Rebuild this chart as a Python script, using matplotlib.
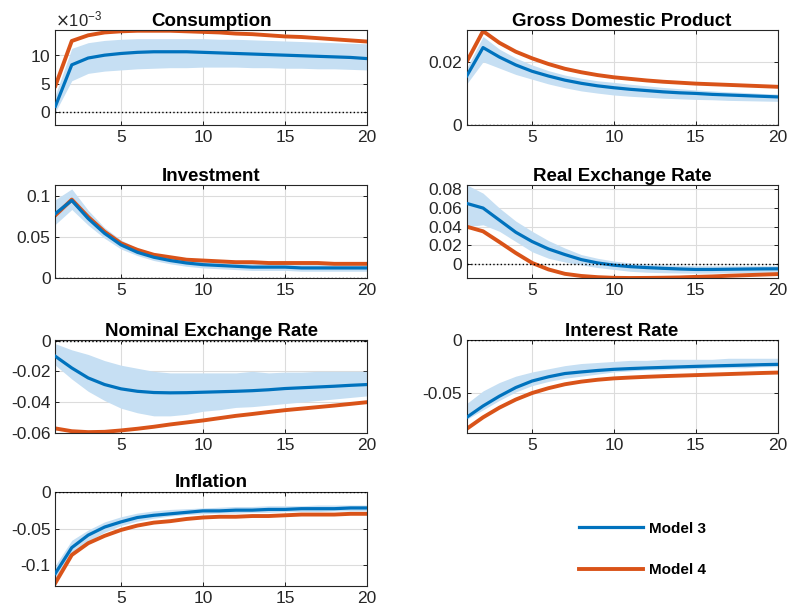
import numpy as np
import matplotlib
matplotlib.use('Agg')
import matplotlib.pyplot as plt
from matplotlib.lines import Line2D
from matplotlib.ticker import ScalarFormatter

plt.rcParams['font.family'] = ['Liberation Sans', 'DejaVu Sans']
plt.rcParams['axes.unicode_minus'] = False

horizon = np.arange(1, 21)

# consumption is read in units of 1e-3
cons_m3 = np.array([1.0, 8.3, 9.5, 10.0, 10.3, 10.5, 10.6, 10.6, 10.6, 10.5,
                    10.4, 10.3, 10.2, 10.1, 10.0, 9.9, 9.8, 9.7, 9.6, 9.4]) * 1e-3
cons_m4 = np.array([4.6, 12.5, 13.5, 14.0, 14.2, 14.3, 14.3, 14.3, 14.2, 14.1,
                    14.0, 13.8, 13.7, 13.5, 13.3, 13.2, 13.0, 12.8, 12.6, 12.4]) * 1e-3
cons_lo = np.array([0.0, 5.5, 6.8, 7.2, 7.4, 7.6, 7.7, 7.8, 7.8, 7.9,
                    7.9, 7.9, 7.8, 7.8, 7.7, 7.7, 7.6, 7.6, 7.5, 7.4]) * 1e-3
cons_hi = np.array([3.0, 11.2, 12.2, 12.6, 12.8, 12.9, 12.9, 12.9, 12.9, 12.9,
                    12.8, 12.8, 12.7, 12.6, 12.5, 12.4, 12.3, 12.2, 12.1, 12.0]) * 1e-3

gdp_m3 = [0.0155, 0.0245, 0.0215, 0.0190, 0.0170, 0.0155, 0.0142, 0.0132, 0.0124, 0.0118,
          0.0113, 0.0109, 0.0105, 0.0102, 0.0100, 0.0097, 0.0095, 0.0093, 0.0091, 0.0089]
gdp_m4 = [0.0200, 0.0297, 0.0260, 0.0232, 0.0211, 0.0193, 0.0178, 0.0167, 0.0158, 0.0151,
          0.0146, 0.0141, 0.0137, 0.0134, 0.0131, 0.0129, 0.0127, 0.0125, 0.0123, 0.0121]
gdp_lo = [0.0130, 0.0200, 0.0180, 0.0160, 0.0145, 0.0130, 0.0118, 0.0108, 0.0101, 0.0095,
          0.0091, 0.0088, 0.0085, 0.0083, 0.0081, 0.0080, 0.0078, 0.0077, 0.0076, 0.0075]
gdp_hi = [0.0180, 0.0280, 0.0240, 0.0212, 0.0190, 0.0172, 0.0158, 0.0148, 0.0140, 0.0135,
          0.0129, 0.0124, 0.0119, 0.0115, 0.0111, 0.0108, 0.0105, 0.0103, 0.0100, 0.0098]

inv_m3 = [0.078, 0.094, 0.072, 0.054, 0.040, 0.031, 0.025, 0.021, 0.018, 0.016,
          0.015, 0.014, 0.013, 0.013, 0.013, 0.012, 0.012, 0.012, 0.012, 0.012]
inv_m4 = [0.076, 0.095, 0.074, 0.056, 0.042, 0.034, 0.028, 0.025, 0.022, 0.021,
          0.020, 0.019, 0.019, 0.018, 0.018, 0.018, 0.018, 0.017, 0.017, 0.017]
inv_lo = [0.065, 0.083, 0.064, 0.048, 0.035, 0.027, 0.021, 0.017, 0.014, 0.012,
          0.011, 0.010, 0.009, 0.009, 0.009, 0.008, 0.008, 0.008, 0.008, 0.008]
inv_hi = [0.095, 0.108, 0.082, 0.061, 0.046, 0.036, 0.030, 0.026, 0.023, 0.021,
          0.020, 0.019, 0.018, 0.018, 0.017, 0.017, 0.017, 0.016, 0.016, 0.016]

rer_m3 = [0.065, 0.060, 0.047, 0.034, 0.024, 0.016, 0.010, 0.0046, 0.0010, -0.0014,
          -0.0030, -0.0040, -0.0048, -0.0055, -0.0060, -0.0060, -0.0058, -0.0056, -0.0054, -0.0053]
rer_m4 = [0.040, 0.035, 0.0235, 0.0117, 0.0010, -0.0060, -0.0107, -0.0130, -0.0143, -0.0150,
          -0.0152, -0.0151, -0.0149, -0.0146, -0.0140, -0.0135, -0.0128, -0.0122, -0.0116, -0.0110]
rer_lo = [0.040, 0.042, 0.035, 0.024, 0.013, 0.006, 0.002, -0.001, -0.004, -0.006,
          -0.008, -0.009, -0.0095, -0.0098, -0.0100, -0.0099, -0.0097, -0.0095, -0.0092, -0.0090]
rer_hi = [0.085, 0.076, 0.060, 0.046, 0.035, 0.025, 0.017, 0.010, 0.006, 0.003,
          0.001, 0.000, -0.001, -0.0015, -0.0020, -0.0021, -0.0021, -0.0020, -0.0020, -0.0020]

ner_m3 = [-0.0102, -0.0178, -0.0243, -0.0286, -0.0314, -0.0330, -0.0338, -0.0340, -0.0339, -0.0336,
          -0.0333, -0.0330, -0.0326, -0.0320, -0.0312, -0.0307, -0.0302, -0.0297, -0.0291, -0.0286]
ner_m4 = [-0.0572, -0.0590, -0.0596, -0.0594, -0.0585, -0.0574, -0.0561, -0.0546, -0.0533, -0.0520,
          -0.0505, -0.0490, -0.0478, -0.0465, -0.0453, -0.0443, -0.0433, -0.0423, -0.0412, -0.0401]
ner_lo = [-0.016, -0.025, -0.033, -0.039, -0.044, -0.047, -0.049, -0.049, -0.048, -0.046,
          -0.045, -0.0435, -0.043, -0.042, -0.041, -0.040, -0.039, -0.038, -0.037, -0.036]
ner_hi = [-0.002, -0.006, -0.009, -0.013, -0.016, -0.018, -0.020, -0.021, -0.021, -0.021,
          -0.021, -0.021, -0.020, -0.021, -0.0205, -0.0205, -0.020, -0.020, -0.020, -0.020]

int_m3 = [-0.0731, -0.0623, -0.0530, -0.0448, -0.0386, -0.0346, -0.0315, -0.0300, -0.0286, -0.0275,
          -0.0268, -0.0262, -0.0257, -0.0252, -0.0247, -0.0243, -0.0239, -0.0235, -0.0231, -0.0228]
int_m4 = [-0.0840, -0.0731, -0.0639, -0.0562, -0.0500, -0.0454, -0.0417, -0.0392, -0.0374, -0.0361,
          -0.0353, -0.0346, -0.0340, -0.0335, -0.0330, -0.0325, -0.0320, -0.0315, -0.0310, -0.0306]
int_lo = [-0.075, -0.066, -0.057, -0.049, -0.043, -0.039, -0.036, -0.034, -0.032, -0.030,
          -0.029, -0.028, -0.028, -0.027, -0.027, -0.026, -0.026, -0.026, -0.025, -0.025]
int_hi = [-0.060, -0.048, -0.040, -0.034, -0.030, -0.027, -0.024, -0.022, -0.021, -0.020,
          -0.019, -0.019, -0.018, -0.018, -0.018, -0.018, -0.017, -0.017, -0.017, -0.017]

infl_m3 = [-0.111, -0.076, -0.059, -0.048, -0.041, -0.035, -0.032, -0.030, -0.028, -0.026,
           -0.026, -0.025, -0.025, -0.024, -0.024, -0.023, -0.023, -0.023, -0.022, -0.022]
infl_m4 = [-0.124, -0.086, -0.070, -0.060, -0.052, -0.046, -0.042, -0.040, -0.037, -0.035,
           -0.034, -0.034, -0.033, -0.033, -0.032, -0.031, -0.031, -0.031, -0.030, -0.030]
infl_lo = [-0.120, -0.083, -0.067, -0.055, -0.046, -0.040, -0.036, -0.033, -0.031, -0.030,
           -0.029, -0.029, -0.028, -0.028, -0.027, -0.027, -0.027, -0.026, -0.026, -0.026]
infl_hi = [-0.100, -0.066, -0.052, -0.041, -0.034, -0.029, -0.026, -0.024, -0.023, -0.022,
           -0.021, -0.020, -0.020, -0.019, -0.019, -0.019, -0.018, -0.018, -0.018, -0.018]

titles = ['Consumption', 'Gross Domestic Product', 'Investment', 'Real Exchange Rate',
          'Nominal Exchange Rate', 'Interest Rate', 'Inflation']
series_m3 = [cons_m3, gdp_m3, inv_m3, rer_m3, ner_m3, int_m3, infl_m3]
series_m4 = [cons_m4, gdp_m4, inv_m4, rer_m4, ner_m4, int_m4, infl_m4]
bands_lo = [cons_lo, gdp_lo, inv_lo, rer_lo, ner_lo, int_lo, infl_lo]
bands_hi = [cons_hi, gdp_hi, inv_hi, rer_hi, ner_hi, int_hi, infl_hi]
yticks = [[0, 0.005, 0.01], [0, 0.02], [0, 0.05, 0.1], [0, 0.02, 0.04, 0.06, 0.08],
          [-0.06, -0.04, -0.02, 0], [-0.05, 0], [-0.1, -0.05, 0]]
ylims = [(-0.0023, 0.0144), (0, 0.03), (0, 0.113), (-0.015, 0.085),
         (-0.0602, 0.0004), (-0.088, 0.0003), (-0.128, 0.0003)]

# axes boxes in figure fractions (left, bottom, width, height)
positions = [(0.070, 0.797, 0.394, 0.154), (0.590, 0.797, 0.393, 0.154),
             (0.070, 0.549, 0.394, 0.151), (0.590, 0.549, 0.393, 0.151),
             (0.070, 0.297, 0.394, 0.151), (0.590, 0.297, 0.393, 0.151),
             (0.070, 0.049, 0.394, 0.153)]

blue = '#0072BD'
red = '#D95319'
band = '#c6dff3'

fig = plt.figure(figsize=(7.91, 6.16), dpi=100)

for i in range(len(titles)):
    ax = fig.add_axes(positions[i])
    ax.fill_between(horizon, bands_lo[i], bands_hi[i], color=band, lw=0, zorder=1)
    ax.plot(horizon, series_m3[i], color=blue, lw=2.3, zorder=3)
    ax.plot(horizon, series_m4[i], color=red, lw=2.8, zorder=2)
    ax.axhline(0, color='k', ls=':', lw=1.0, zorder=4)
    ax.set_xlim(1, 20)
    ax.set_ylim(ylims[i])
    ax.set_xticks([5, 10, 15, 20])
    ax.set_yticks(yticks[i])
    ax.grid(True, color='#dcdcdc', lw=0.8)
    ax.set_axisbelow(True)
    ax.tick_params(direction='in', top=True, right=True, labelsize=12.5,
                   labelcolor='#262626', length=3, width=0.6)
    for sp in ax.spines.values():
        sp.set_linewidth(0.8)
        sp.set_color('#262626')
    ax.set_title(titles[i], fontsize=13.5, fontweight='bold', pad=3)
    if i == 0:
        fmt = ScalarFormatter(useMathText=True)
        fmt.set_powerlimits((-3, -3))
        ax.yaxis.set_major_formatter(fmt)
        ax.yaxis.get_offset_text().set_fontsize(12)
        ax.yaxis.get_offset_text().set_color('#262626')
    else:
        ax.set_yticklabels([('%g' % v) for v in yticks[i]])

handles = [Line2D([], [], color=blue, lw=2.3), Line2D([], [], color=red, lw=2.8)]
fig.legend(handles, ['Model 3', 'Model 4'], loc='center', bbox_to_anchor=(0.812, 0.108),
           frameon=False, handlelength=4.2, handletextpad=0.4, labelspacing=1.8,
           prop={'weight': 'bold', 'size': 11})

fig.savefig('out.png', dpi=100)
